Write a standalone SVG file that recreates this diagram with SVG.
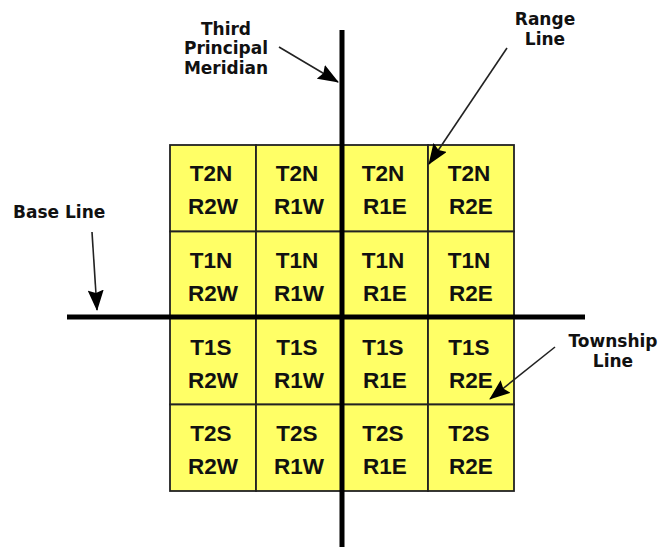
<svg xmlns="http://www.w3.org/2000/svg" width="660" height="547" viewBox="0 0 660 547">
<style>
.cell{fill:#ffff66;stroke:#222;stroke-width:1.8}
.ct{font-family:"Liberation Sans",Arial,sans-serif;font-weight:bold;font-size:22.5px;fill:#111;text-anchor:middle}
.lbl{font-family:"DejaVu Sans",sans-serif;font-weight:bold;font-size:17px;fill:#111}
.axis{stroke:#000;stroke-width:5}
.arr{stroke:#222;stroke-width:1.6;fill:none;marker-end:url(#ah)}
</style>
<defs>
<marker id="ah" markerUnits="userSpaceOnUse" markerWidth="24" markerHeight="16" refX="20" refY="8" orient="auto">
<path d="M0,0 L21,8 L0,16 L3,8 z" fill="#000"/>
</marker>
</defs>
<rect width="660" height="547" fill="#fff"/>
<g id="cells">
<g id="c11"><rect class="cell" x="170" y="145" width="86" height="86.5"/><text class="ct" x="211" y="181">T2N</text><text class="ct" x="213" y="214">R2W</text></g>
<g id="c12"><rect class="cell" x="256" y="145" width="86" height="86.5"/><text class="ct" x="297" y="181">T2N</text><text class="ct" x="299" y="214">R1W</text></g>
<g id="c13"><rect class="cell" x="342" y="145" width="86" height="86.5"/><text class="ct" x="383" y="181">T2N</text><text class="ct" x="385" y="214">R1E</text></g>
<g id="c14"><rect class="cell" x="428" y="145" width="86" height="86.5"/><text class="ct" x="469" y="181">T2N</text><text class="ct" x="471" y="214">R2E</text></g>
<g id="c21"><rect class="cell" x="170" y="231.5" width="86" height="86.5"/><text class="ct" x="211" y="268">T1N</text><text class="ct" x="213" y="301">R2W</text></g>
<g id="c22"><rect class="cell" x="256" y="231.5" width="86" height="86.5"/><text class="ct" x="297" y="268">T1N</text><text class="ct" x="299" y="301">R1W</text></g>
<g id="c23"><rect class="cell" x="342" y="231.5" width="86" height="86.5"/><text class="ct" x="383" y="268">T1N</text><text class="ct" x="385" y="301">R1E</text></g>
<g id="c24"><rect class="cell" x="428" y="231.5" width="86" height="86.5"/><text class="ct" x="469" y="268">T1N</text><text class="ct" x="471" y="301">R2E</text></g>
<g id="c31"><rect class="cell" x="170" y="318" width="86" height="86.5"/><text class="ct" x="211" y="355">T1S</text><text class="ct" x="213" y="388">R2W</text></g>
<g id="c32"><rect class="cell" x="256" y="318" width="86" height="86.5"/><text class="ct" x="297" y="355">T1S</text><text class="ct" x="299" y="388">R1W</text></g>
<g id="c33"><rect class="cell" x="342" y="318" width="86" height="86.5"/><text class="ct" x="383" y="355">T1S</text><text class="ct" x="385" y="388">R1E</text></g>
<g id="c34"><rect class="cell" x="428" y="318" width="86" height="86.5"/><text class="ct" x="469" y="355">T1S</text><text class="ct" x="471" y="388">R2E</text></g>
<g id="c41"><rect class="cell" x="170" y="404.5" width="86" height="86.5"/><text class="ct" x="211" y="441">T2S</text><text class="ct" x="213" y="474">R2W</text></g>
<g id="c42"><rect class="cell" x="256" y="404.5" width="86" height="86.5"/><text class="ct" x="297" y="441">T2S</text><text class="ct" x="299" y="474">R1W</text></g>
<g id="c43"><rect class="cell" x="342" y="404.5" width="86" height="86.5"/><text class="ct" x="383" y="441">T2S</text><text class="ct" x="385" y="474">R1E</text></g>
<g id="c44"><rect class="cell" x="428" y="404.5" width="86" height="86.5"/><text class="ct" x="469" y="441">T2S</text><text class="ct" x="471" y="474">R2E</text></g>
</g>
<g id="axes">
<line class="axis" x1="342" y1="30" x2="342" y2="547"/>
<line class="axis" x1="67" y1="317" x2="585" y2="317"/>
</g>
<g id="labels">
<g id="meridian-label"><text class="lbl" x="226" y="35" text-anchor="middle">Third</text><text class="lbl" x="226" y="54" text-anchor="middle">Principal</text><text class="lbl" x="226" y="74" text-anchor="middle">Meridian</text></g>
<g id="range-label"><text class="lbl" x="545" y="25" text-anchor="middle">Range</text><text class="lbl" x="545" y="45" text-anchor="middle">Line</text></g>
<g id="base-label"><text class="lbl" x="13" y="218">Base Line</text></g>
<g id="township-label"><text class="lbl" x="613" y="347" text-anchor="middle">Township</text><text class="lbl" x="613" y="367" text-anchor="middle">Line</text></g>
</g>
<g id="connectors">
<line class="arr" x1="279" y1="47" x2="338" y2="82"/>
<line class="arr" x1="507" y1="48" x2="429" y2="164"/>
<line class="arr" x1="92" y1="232" x2="97" y2="310"/>
<line class="arr" x1="555" y1="347" x2="490" y2="399"/>
</g>
</svg>
